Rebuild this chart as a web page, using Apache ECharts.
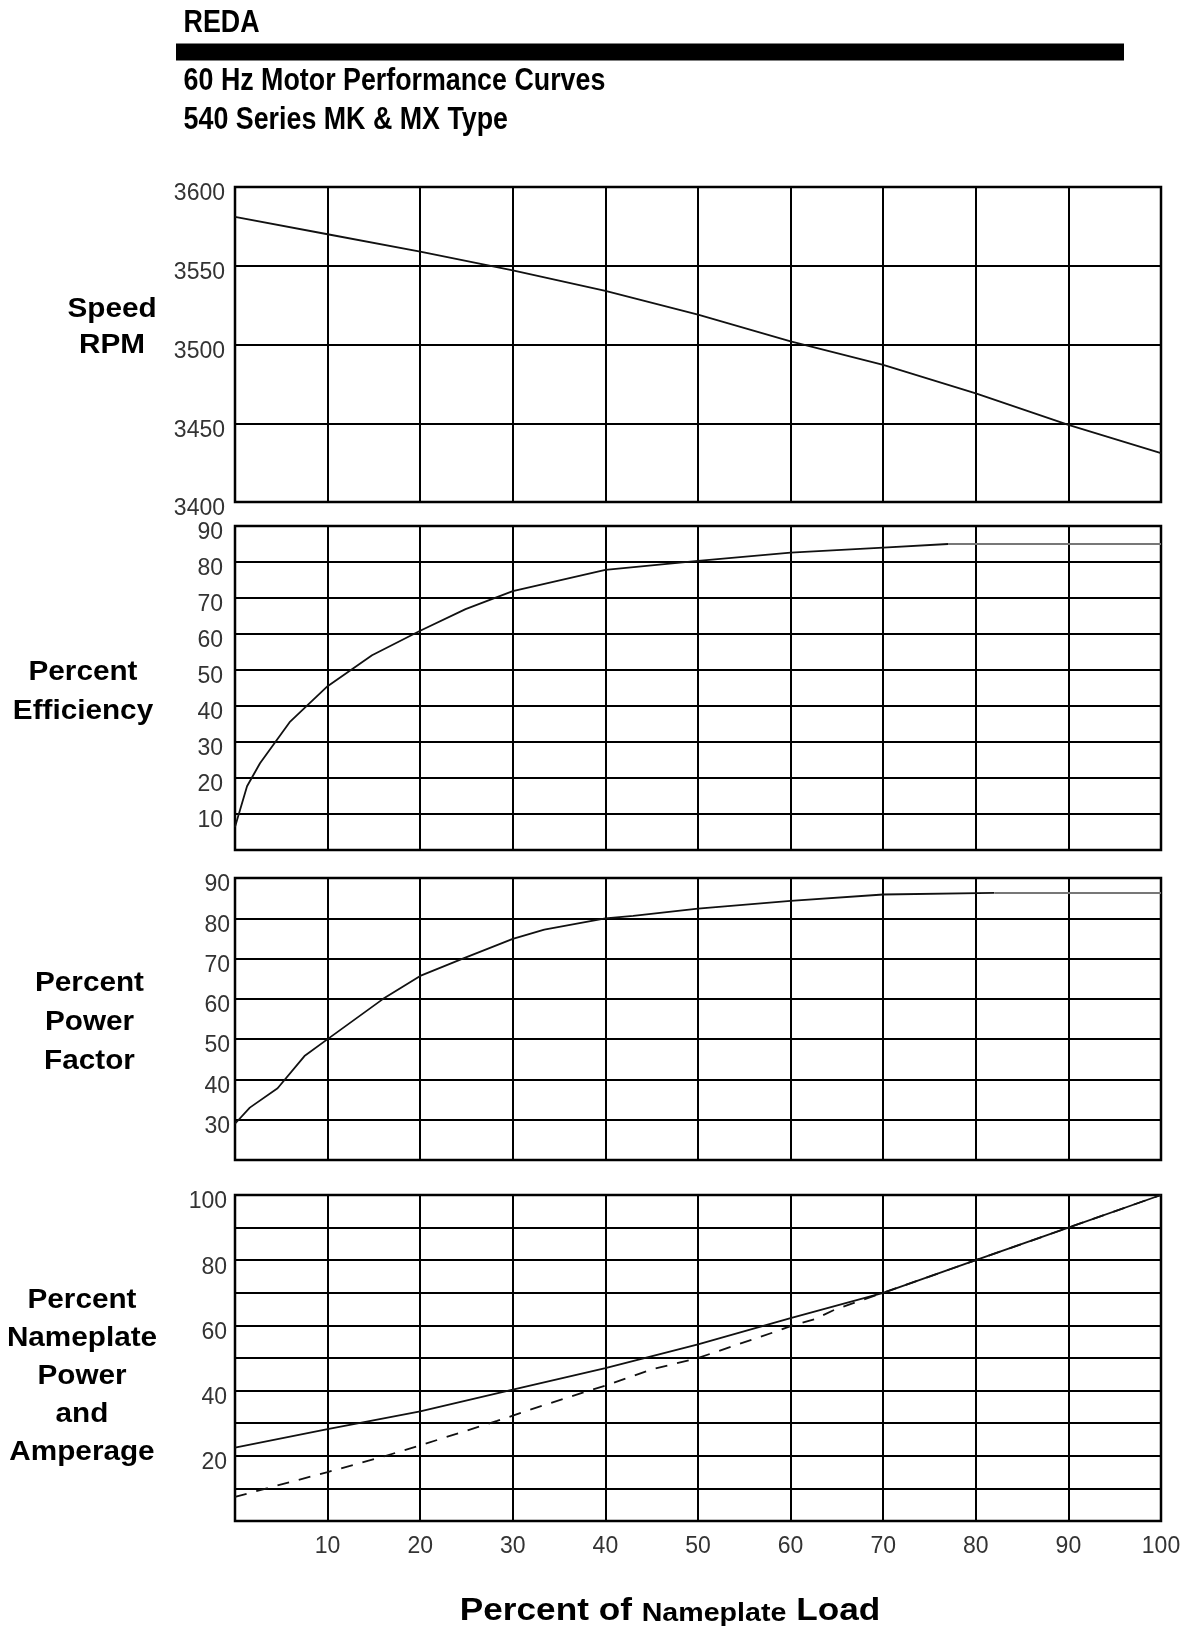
<!DOCTYPE html>
<html>
<head>
<meta charset="utf-8">
<script src="https://cdn.jsdelivr.net/npm/echarts@6/dist/echarts.min.js"></script>
<style>
html,body{margin:0;padding:0;background:#fff;}
#chart{width:1188px;height:1627px;}
</style>
</head>
<body>
<div id="chart"></div>
<script>
// ---- Data ----
const speedLoad = [0, 10, 20, 30, 40, 50, 60, 70, 80, 90, 100];
const speedRpm = [3581, 3570, 3559, 3547, 3534, 3519, 3502, 3487, 3469, 3449, 3431];

const effLoad = [0, 1.3, 2.7, 5.9, 10, 14.8, 20, 24.9, 30, 40, 50, 60, 70, 77];
const effPct = [6.4, 17.7, 24.1, 35.5, 45.5, 54.1, 60.9, 66.9, 71.9, 77.8, 80.3, 82.6, 84, 85];
const effFlatLoad = [77, 100];
const effFlatPct = [85, 85];

const pfLoad = [0, 1.6, 4.6, 7.5, 10, 16, 20, 24.6, 30, 33.4, 40, 43, 50, 60, 70, 82];
const pfPct = [29, 33, 37.8, 45.8, 50, 60, 65.7, 70, 74.9, 77.2, 80, 80.6, 82.4, 84.3, 85.9, 86.3];
const pfFlatLoad = [82, 100];
const pfFlatPct = [86.3, 86.3];

const powerLoad = [0, 10, 20, 30, 40, 50, 60, 70, 80, 90, 100];
const powerPct = [22.5, 28.2, 33.6, 40.3, 46.9, 54.2, 62.2, 70, 80, 90, 100];

const ampLoad = [0, 4.2, 10, 16.3, 20, 28.3, 30, 31.6, 37.8, 40, 45, 50, 58.8, 60, 62.6, 64.9, 70, 80, 90, 100];
const ampPct = [7.4, 10.6, 15, 20, 23.2, 30.7, 32.3, 33.9, 39.6, 41.5, 46.5, 50, 58.5, 59.8, 61.9, 65, 70, 80, 90, 100];

const xTickLabels = ['10', '20', '30', '40', '50', '60', '70', '80', '90', '100'];
const speedTickLabels = ['3400', '3450', '3500', '3550', '3600'];
const effTickLabels = ['10', '20', '30', '40', '50', '60', '70', '80', '90'];
const pfTickLabels = ['30', '40', '50', '60', '70', '80', '90'];
const ampTickLabels = ['20', '40', '60', '80', '100'];

const panelTitles = [
  'Speed\nRPM',
  'Percent\nEfficiency',
  'Percent\nPower\nFactor',
  'Percent\nNameplate\nPower\nand\nAmperage'
];
const headerLines = ['REDA', '60 Hz Motor Performance Curves', '540 Series MK & MX Type'];

// ---- Helpers ----
const pairs = (xs, ys) => xs.map((x, i) => [x, ys[i]]);
const FONT = '"Liberation Sans", Arial, Helvetica, sans-serif';
const only = (list) => (v) => (list.indexOf(String(v)) >= 0 ? String(v) : '');

const grids = [
  { left: 235, right: 27, top: 187, height: 315 },
  { left: 235, right: 27, top: 526, height: 324 },
  { left: 235, right: 27, top: 878, height: 282 },
  { left: 235, right: 27, top: 1195, height: 326 }
].map(g => Object.assign({ show: true, borderColor: '#000', borderWidth: 2.5, backgroundColor: 'transparent' }, g));

const gridLine = { show: true, lineStyle: { color: '#000', width: 2 } };

const xAxes = [0, 1, 2, 3].map(i => ({
  type: 'value', gridIndex: i, min: 0, max: 100, interval: 10,
  axisLine: { show: false }, axisTick: { show: false },
  splitLine: gridLine,
  axisLabel: i === 3 ? {
    show: true, margin: 14, fontSize: 23, color: '#333', fontFamily: FONT,
    formatter: only(xTickLabels)
  } : { show: false }
}));

function yAx(i, min, max, interval, labels, margin) {
  return {
    type: 'value', gridIndex: i, min: min, max: max, interval: interval,
    axisLine: { show: false }, axisTick: { show: false },
    splitLine: gridLine,
    axisLabel: {
      show: true, margin: margin, fontSize: 23, color: '#333', fontFamily: FONT,
      verticalAlign: 'top', lineHeight: 14,
      formatter: only(labels)
    }
  };
}
const yAxes = [
  yAx(0, 3400, 3600, 50, speedTickLabels, 10),
  yAx(1, 0, 90, 10, effTickLabels, 12),
  yAx(2, 20, 90, 10, pfTickLabels, 5),
  yAx(3, 0, 100, 10, ampTickLabels, 8)
];

function line(name, i, data, opts) {
  return Object.assign({
    name: name, type: 'line', xAxisIndex: i, yAxisIndex: i,
    data: data, showSymbol: false, symbol: 'none', silent: true, z: 5,
    lineStyle: { color: '#111', width: 1.8 }
  }, opts || {});
}

const series = [
  line('Speed RPM', 0, pairs(speedLoad, speedRpm)),
  line('Percent Efficiency', 1, pairs(effLoad, effPct)),
  line('Percent Efficiency (flat)', 1, pairs(effFlatLoad, effFlatPct), { lineStyle: { color: '#777', width: 2 } }),
  line('Percent Power Factor', 2, pairs(pfLoad, pfPct)),
  line('Percent Power Factor (flat)', 2, pairs(pfFlatLoad, pfFlatPct), { lineStyle: { color: '#777', width: 2 } }),
  line('Percent Nameplate Power', 3, pairs(powerLoad, powerPct)),
  line('Percent Nameplate Amperage', 3, pairs(ampLoad, ampPct), { lineStyle: { color: '#111', width: 1.8, type: [12, 10] } })
];

// ---- Texts ----
const titleFont = 'bold 27px ' + FONT;
const titlePos = [
  { x: 112, y: 327.6, lh: 36.3 },
  { x: 83, y: 692, lh: 38.4 },
  { x: 89.5, y: 1023, lh: 39 },
  { x: 82, y: 1376.4, lh: 37.9 }
];
const graphics = [];
headerLines.forEach((t, i) => {
  graphics.push({
    type: 'text', x: 183.6, y: [23, 81, 120.5][i], scaleX: 0.865,
    style: { text: t, font: 'bold 31px ' + FONT, fill: '#000', textAlign: 'left', textVerticalAlign: 'middle' }
  });
});
graphics.push({ type: 'rect', shape: { x: 176, y: 43.5, width: 948, height: 17 }, style: { fill: '#000' } });
panelTitles.forEach((t, i) => {
  graphics.push({
    type: 'text', x: titlePos[i].x, y: titlePos[i].y, scaleX: 1.1,
    style: { text: t, font: titleFont, fill: '#000', textAlign: 'center', textVerticalAlign: 'middle', lineHeight: titlePos[i].lh }
  });
});
graphics.push({
  type: 'text', x: 670, y: 1611, scaleX: 1.1,
  style: {
    text: '{a|Percent of }{b|Nameplate}{a| Load}',
    textAlign: 'center', textVerticalAlign: 'middle', fill: '#000',
    rich: {
      a: { fontSize: 32, fontWeight: 'bold', fontFamily: FONT, verticalAlign: 'bottom', fill: '#000' },
      b: { fontSize: 26, fontWeight: 'bold', fontFamily: FONT, verticalAlign: 'bottom', fill: '#000' }
    }
  }
});

const chart = echarts.init(document.getElementById('chart'), null, { renderer: 'canvas' });
chart.setOption({
  animation: false,
  backgroundColor: '#fff',
  grid: grids,
  xAxis: xAxes,
  yAxis: yAxes,
  series: series,
  graphic: graphics
});
</script>
</body>
</html>
